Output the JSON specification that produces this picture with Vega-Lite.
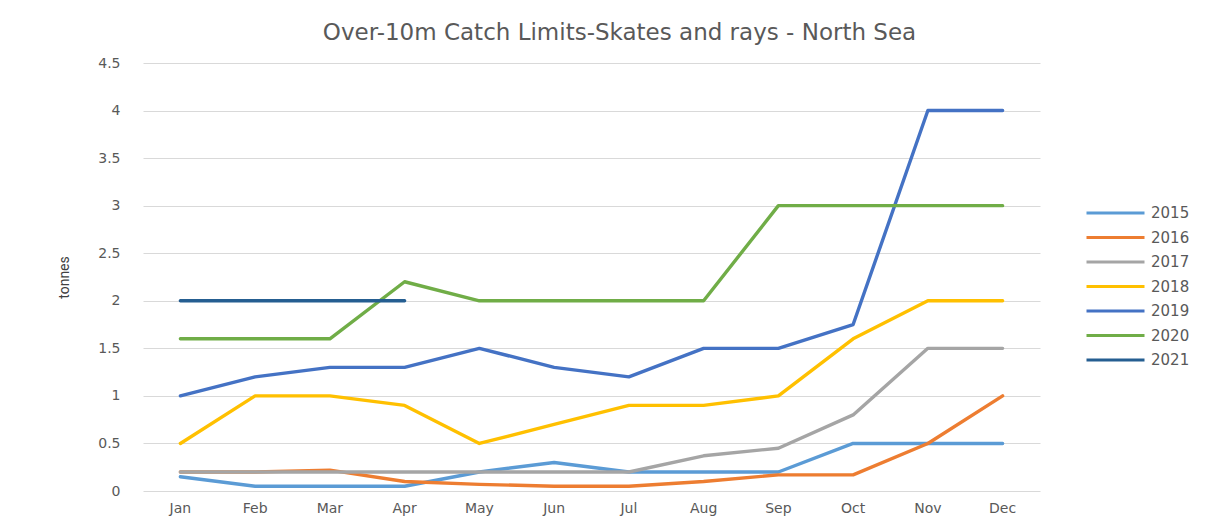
{
  "$schema": "https://vega.github.io/schema/vega-lite/v6.json",
  "width": 897,
  "height": 428,
  "autosize": {"type": "none"},
  "padding": {"left": 143, "top": 63, "right": 174, "bottom": 30},
  "background": "white",
  "title": {
    "text": "Over-10m Catch Limits-Skates and rays - North Sea",
    "font": "DejaVu Sans",
    "fontSize": 23,
    "fontWeight": "normal",
    "color": "#595959",
    "anchor": "middle",
    "dx": 28,
    "offset": 11
  },
  "config": {
    "view": {"stroke": null},
    "font": "DejaVu Sans"
  },
  "data": {
    "values": [
      {"month": "Jan", "year": "2015", "v": 0.15},
      {"month": "Feb", "year": "2015", "v": 0.05},
      {"month": "Mar", "year": "2015", "v": 0.05},
      {"month": "Apr", "year": "2015", "v": 0.05},
      {"month": "May", "year": "2015", "v": 0.2},
      {"month": "Jun", "year": "2015", "v": 0.3},
      {"month": "Jul", "year": "2015", "v": 0.2},
      {"month": "Aug", "year": "2015", "v": 0.2},
      {"month": "Sep", "year": "2015", "v": 0.2},
      {"month": "Oct", "year": "2015", "v": 0.5},
      {"month": "Nov", "year": "2015", "v": 0.5},
      {"month": "Dec", "year": "2015", "v": 0.5},
      {"month": "Jan", "year": "2016", "v": 0.2},
      {"month": "Feb", "year": "2016", "v": 0.2},
      {"month": "Mar", "year": "2016", "v": 0.22},
      {"month": "Apr", "year": "2016", "v": 0.1},
      {"month": "May", "year": "2016", "v": 0.07},
      {"month": "Jun", "year": "2016", "v": 0.05},
      {"month": "Jul", "year": "2016", "v": 0.05},
      {"month": "Aug", "year": "2016", "v": 0.1},
      {"month": "Sep", "year": "2016", "v": 0.17},
      {"month": "Oct", "year": "2016", "v": 0.17},
      {"month": "Nov", "year": "2016", "v": 0.5},
      {"month": "Dec", "year": "2016", "v": 1.0},
      {"month": "Jan", "year": "2017", "v": 0.2},
      {"month": "Feb", "year": "2017", "v": 0.2},
      {"month": "Mar", "year": "2017", "v": 0.2},
      {"month": "Apr", "year": "2017", "v": 0.2},
      {"month": "May", "year": "2017", "v": 0.2},
      {"month": "Jun", "year": "2017", "v": 0.2},
      {"month": "Jul", "year": "2017", "v": 0.2},
      {"month": "Aug", "year": "2017", "v": 0.37},
      {"month": "Sep", "year": "2017", "v": 0.45},
      {"month": "Oct", "year": "2017", "v": 0.8},
      {"month": "Nov", "year": "2017", "v": 1.5},
      {"month": "Dec", "year": "2017", "v": 1.5},
      {"month": "Jan", "year": "2018", "v": 0.5},
      {"month": "Feb", "year": "2018", "v": 1.0},
      {"month": "Mar", "year": "2018", "v": 1.0},
      {"month": "Apr", "year": "2018", "v": 0.9},
      {"month": "May", "year": "2018", "v": 0.5},
      {"month": "Jun", "year": "2018", "v": 0.7},
      {"month": "Jul", "year": "2018", "v": 0.9},
      {"month": "Aug", "year": "2018", "v": 0.9},
      {"month": "Sep", "year": "2018", "v": 1.0},
      {"month": "Oct", "year": "2018", "v": 1.6},
      {"month": "Nov", "year": "2018", "v": 2.0},
      {"month": "Dec", "year": "2018", "v": 2.0},
      {"month": "Jan", "year": "2019", "v": 1.0},
      {"month": "Feb", "year": "2019", "v": 1.2},
      {"month": "Mar", "year": "2019", "v": 1.3},
      {"month": "Apr", "year": "2019", "v": 1.3},
      {"month": "May", "year": "2019", "v": 1.5},
      {"month": "Jun", "year": "2019", "v": 1.3},
      {"month": "Jul", "year": "2019", "v": 1.2},
      {"month": "Aug", "year": "2019", "v": 1.5},
      {"month": "Sep", "year": "2019", "v": 1.5},
      {"month": "Oct", "year": "2019", "v": 1.75},
      {"month": "Nov", "year": "2019", "v": 4.0},
      {"month": "Dec", "year": "2019", "v": 4.0},
      {"month": "Jan", "year": "2020", "v": 1.6},
      {"month": "Feb", "year": "2020", "v": 1.6},
      {"month": "Mar", "year": "2020", "v": 1.6},
      {"month": "Apr", "year": "2020", "v": 2.2},
      {"month": "May", "year": "2020", "v": 2.0},
      {"month": "Jun", "year": "2020", "v": 2.0},
      {"month": "Jul", "year": "2020", "v": 2.0},
      {"month": "Aug", "year": "2020", "v": 2.0},
      {"month": "Sep", "year": "2020", "v": 3.0},
      {"month": "Oct", "year": "2020", "v": 3.0},
      {"month": "Nov", "year": "2020", "v": 3.0},
      {"month": "Dec", "year": "2020", "v": 3.0},
      {"month": "Jan", "year": "2021", "v": 2.0},
      {"month": "Feb", "year": "2021", "v": 2.0},
      {"month": "Mar", "year": "2021", "v": 2.0},
      {"month": "Apr", "year": "2021", "v": 2.0}
    ]
  },
  "mark": {"type": "line", "strokeWidth": 3.4, "strokeJoin": "round", "strokeCap": "round"},
  "encoding": {
    "x": {
      "field": "month",
      "type": "ordinal",
      "sort": ["Jan","Feb","Mar","Apr","May","Jun","Jul","Aug","Sep","Oct","Nov","Dec"],
      "scale": {"type": "band", "paddingInner": 0, "paddingOuter": 0},
      "axis": {
        "title": null,
        "domain": false,
        "ticks": false,
        "labelAngle": 0,
        "labelFont": "DejaVu Sans",
        "labelFontSize": 14,
        "labelColor": "#595959",
        "labelPadding": 10
      }
    },
    "y": {
      "field": "v",
      "type": "quantitative",
      "scale": {"domain": [0, 4.5]},
      "axis": {
        "title": "tonnes",
        "titleFont": "Roboto",
        "titleFontSize": 14,
        "titleFontWeight": "normal",
        "titleColor": "#404040",
        "titleX": -72,
        "titleY": 214,
        "titleAngle": -90,
        "titleAlign": "center",
        "titleBaseline": "bottom",
        "values": [0, 0.5, 1, 1.5, 2, 2.5, 3, 3.5, 4, 4.5],
        "format": ".1~f",
        "domain": false,
        "ticks": false,
        "grid": true,
        "gridColor": "#D9D9D9",
        "gridWidth": 1,
        "labelFont": "DejaVu Sans",
        "labelFontSize": 14,
        "labelColor": "#595959",
        "labelPadding": 23
      }
    },
    "color": {
      "field": "year",
      "type": "nominal",
      "scale": {
        "domain": ["2015","2016","2017","2018","2019","2020","2021"],
        "range": ["#5B9BD5","#ED7D31","#A5A5A5","#FFC000","#4472C4","#70AD47","#255E91"]
      },
      "legend": {
        "title": null,
        "orient": "none",
        "legendX": 942,
        "legendY": 140,
        "symbolType": "stroke",
        "symbolSize": 3364,
        "symbolStrokeWidth": 3,
        "clipHeight": 20,
        "rowPadding": 4.5,
        "labelFont": "DejaVu Sans",
        "labelFontSize": 15,
        "labelColor": "#595959",
        "labelOffset": 5
      }
    }
  }
}
